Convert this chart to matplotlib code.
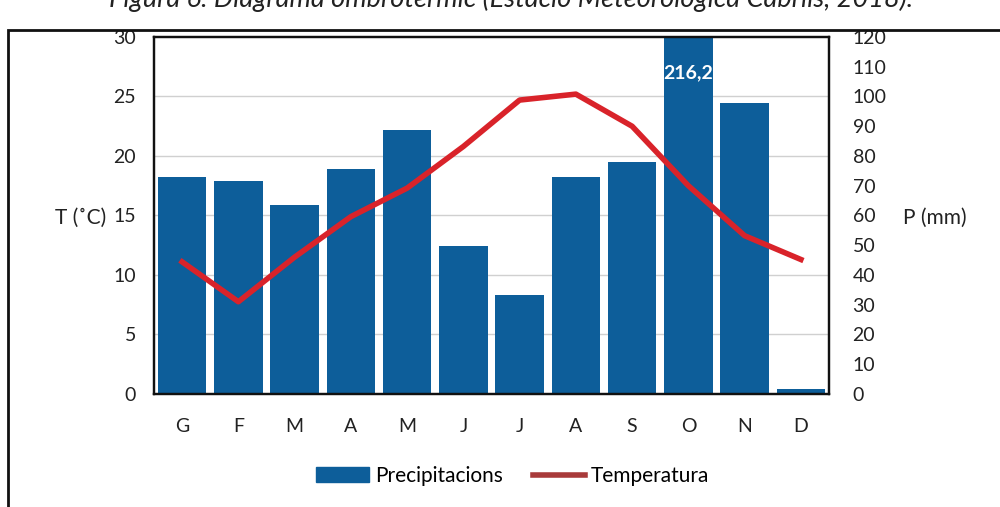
import matplotlib
matplotlib.use("Agg")
import matplotlib.pyplot as plt
from matplotlib.patches import Patch, Rectangle
from matplotlib.lines import Line2D

plt.rcParams['font.family'] = ['Lato', 'DejaVu Sans']

months = ["G", "F", "M", "A", "M", "J", "J", "A", "S", "O", "N", "D"]
precip = [73.1, 71.5, 63.4, 75.5, 88.6, 49.9, 33.4, 72.8, 77.9, 216.2, 97.7, 1.7]
temp = [11.1, 7.75, 11.5, 14.9, 17.3, 20.8, 24.7, 25.2, 22.5, 17.5, 13.3, 11.3]
t_ticks = [0, 5, 10, 15, 20, 25, 30]
p_ticks = [0, 10, 20, 30, 40, 50, 60, 70, 80, 90, 100, 110, 120]

blue = "#0d5e9a"
red = "#d9232a"

fig = plt.figure(figsize=(10, 5.07), dpi=100)
ax_p = fig.add_axes([0.154, 0.223, 0.675, 0.704])
ax_t = ax_p.twinx()
ax_t.set_zorder(ax_p.get_zorder() + 1)
ax_t.patch.set_visible(False)

x = list(range(len(months)))

# grid only every 5 degrees
for t in t_ticks[1:-1]:
    ax_p.axhline(t * 4, color="#d0d0d0", lw=1, zorder=0)

bars = ax_p.bar(x, precip, width=0.86, color=blue, zorder=2)
ax_p.set_ylim(0, 120)
ax_p.set_xlim(-0.5, 11.5)
ax_p.yaxis.tick_right()
ax_p.set_yticks(p_ticks)
ax_p.set_xticks(x)
ax_p.set_xticklabels(months)

# value of the cut bar
i_max = precip.index(max(precip))
lab = ax_p.text(i_max, 108, f"{precip[i_max]:.1f}".replace(".", ","),
                ha="center", va="center", color="white", fontsize=14,
                fontweight="bold", zorder=3)
lab.set_clip_path(bars[i_max])

ax_t.plot(x, temp, color=red, lw=4, solid_joinstyle="round", zorder=4)
ax_t.set_ylim(0, 30)
ax_t.yaxis.tick_left()
ax_t.set_yticks(t_ticks)

for a in (ax_p, ax_t):
    a.tick_params(length=0, labelsize=14, colors="#222222")
    for s in a.spines.values():
        s.set_color("#111111")
        s.set_linewidth(1.6)
ax_p.tick_params(axis="y", pad=17)
ax_t.tick_params(axis="y", pad=13)
ax_p.tick_params(axis="x", pad=17)

fig.text(0.055, 0.57, "T (˚C)", fontsize=15, color="#222222", va="center")
fig.text(0.903, 0.57, "P (mm)", fontsize=15, color="#222222", va="center")

fig.text(0.511, 1 - 7 / 507, "Figura 6. Diagrama ombrotèrmic (Estació Meteorològica Cabrils, 2018).",
         ha="center", va="baseline", fontsize=19.5, style="italic", color="#222222")

handles = [Patch(color=blue), Line2D([0], [0], color="#a83a3a", lw=4)]
fig.legend(handles, ["Precipitacions", "Temperatura"], loc="center",
           bbox_to_anchor=(0.513, 0.061), ncol=2, frameon=False, fontsize=15,
           handlelength=2.5, columnspacing=1.45, handletextpad=0.3)

fig.patches.append(Rectangle((0.008, -0.02), 1.1, 0.961, transform=fig.transFigure,
                             fill=False, edgecolor="#111111", lw=2))

fig.savefig("out.png", dpi=100)
